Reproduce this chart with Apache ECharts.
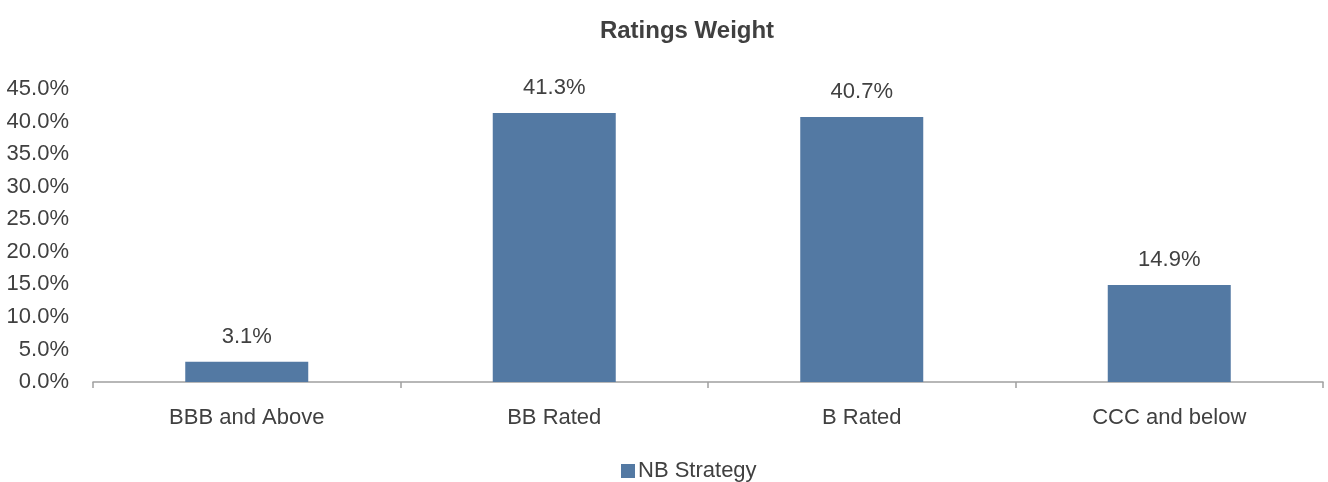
<!DOCTYPE html>
<html><head><meta charset="utf-8">
<script src="https://cdn.jsdelivr.net/npm/echarts@6/dist/echarts.min.js"></script>
<style>html,body{margin:0;padding:0;background:#fff}#c{width:1328px;height:482px}</style>
</head><body><div id="c"></div>
<script>
const categories = ['BBB and Above', 'BB Rated', 'B Rated', 'CCC and below'];
const seriesName = 'NB Strategy';
const values = [3.1, 41.3, 40.7, 14.9];
const yMin = 0, yMax = 45, yStep = 5;

const FONT = '"Liberation Sans", Arial, sans-serif';
const TXT = '#404040';
const chart = echarts.init(document.getElementById('c'));
chart.setOption({
  animation: false,
  title: {
    text: 'Ratings Weight', left: 682, top: 14, textAlign: 'center',
    textStyle: { fontFamily: FONT, fontSize: 24, fontWeight: 'bold', color: TXT }
  },
  legend: {
    data: [seriesName], top: 455, left: 616, itemWidth: 14, itemHeight: 14, itemGap: 6,
    icon: 'rect',
    textStyle: { fontFamily: FONT, fontSize: 22, color: TXT, padding: [0,0,0,-2] }
  },
  grid: { left: 93, right: 5, top: 89, bottom: 100, containLabel: false },
  xAxis: {
    type: 'category', data: categories,
    axisLine: { lineStyle: { color: '#a0a0a0', width: 1.5 } },
    axisTick: { show: true, length: 6, lineStyle: { color: '#a0a0a0', width: 1.5 } },
    axisLabel: { fontFamily: FONT, fontSize: 22, color: TXT, margin: 25 }
  },
  yAxis: {
    type: 'value', min: yMin, max: yMax, interval: yStep,
    splitLine: { show: false },
    axisLine: { show: false }, axisTick: { show: false },
    axisLabel: { fontFamily: FONT, fontSize: 22, color: TXT, margin: 24,
      formatter: v => v.toFixed(1) + '%' }
  },
  series: [{
    name: seriesName, type: 'bar', data: values, barWidth: '40%',
    itemStyle: { color: '#5379A3' },
    label: { show: true, position: 'top', distance: 14, fontFamily: FONT, fontSize: 22, color: TXT,
      formatter: p => p.value.toFixed(1) + '%' }
  }]
});
</script></body></html>
